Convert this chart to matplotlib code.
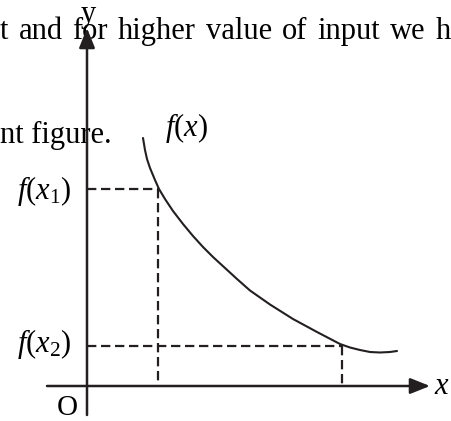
import matplotlib
matplotlib.use("Agg")
import matplotlib.pyplot as plt

plt.rcParams["mathtext.fontset"] = "custom"
plt.rcParams["mathtext.rm"] = "Liberation Serif"
plt.rcParams["mathtext.it"] = "Liberation Serif:italic"
plt.rcParams["font.family"] = ["Liberation Serif", "DejaVu Serif"]

# Decreasing function f(x), sampled along the sketch
curve_x = [56, 58, 60, 63, 68, 72, 78, 86, 96, 106, 116, 126, 138, 150,
           163, 183, 206, 230, 253, 263, 273, 283, 293, 303, 310]
curve_y = [248, 236, 227, 218, 206, 197, 187, 175, 162, 150, 139, 129, 118, 107,
           95.5, 81.5, 67, 54, 42, 38.5, 36, 34, 33.5, 34, 35]

# Two inputs and their outputs
x1, fx1 = 71, 197
x2, fx2 = 255, 40

# Surrounding text lines
line_top = "t and for higher value of input we h"
line_mid = "nt figure."

ink = "#231f20"
body_size = 22

fig = plt.figure(figsize=(4.51, 4.21), dpi=100)
ax = fig.add_axes([0, 0, 1, 1])
ax.set_xlim(-87, 364)
ax.set_ylim(-35, 386)
ax.axis("off")

# Justified top line: spread the words over the full width
renderer = fig.canvas.get_renderer()
words = line_top.split()
artists = [ax.text(0, 347, w, fontsize=body_size, va="baseline", ha="left")
           for w in words]
widths = [a.get_window_extent(renderer).width for a in artists]
gap = (fig.bbox.width - sum(widths)) / (len(words) - 1)
xpix = 0.0
inv = ax.transData.inverted()
for a, w in zip(artists, widths):
    a.set_x(inv.transform((xpix, 0))[0])
    xpix += w + gap

ax.text(-87, 243, line_mid, fontsize=body_size, va="baseline", ha="left")

# Axes with arrowheads
arrow = dict(arrowstyle="-|>,head_length=0.6,head_width=0.24", color=ink,
             lw=1.8, shrinkA=0, shrinkB=0, mutation_scale=20)
ax.annotate("", xy=(0, 358), xytext=(0, -29), arrowprops=arrow)
ax.annotate("", xy=(343, 0), xytext=(-40, 0), arrowprops=arrow)

# Curve
ax.plot(curve_x, curve_y, color=ink, lw=1.5, solid_capstyle="round",
        solid_joinstyle="round")

# Dashed guides
dash = dict(color=ink, lw=1.6, linestyle=(0, (4.2, 2.1)))
ax.plot([0, x1], [fx1, fx1], **dash)
ax.plot([x1, x1], [fx1, 0], **dash)
ax.plot([0, x2], [fx2, fx2], **dash)
ax.plot([x2, x2], [fx2, 0], **dash)

# Labels
ax.text(1, 364, "y", fontsize=body_size, ha="center", va="baseline")
ax.text(355, 0, "$x$", fontsize=22, ha="center", va="center")
ax.text(-20, -22, "O", fontsize=21, ha="center", va="center")
ax.text(99, 250, "$f(x)$", fontsize=body_size, ha="center", va="baseline")
ax.text(-43, fx1 - 2, "$f(x_1)$", fontsize=body_size, ha="center", va="center")
ax.text(-43, fx2 + 2, "$f(x_2)$", fontsize=body_size, ha="center", va="center")

fig.savefig("out.png", dpi=100)
